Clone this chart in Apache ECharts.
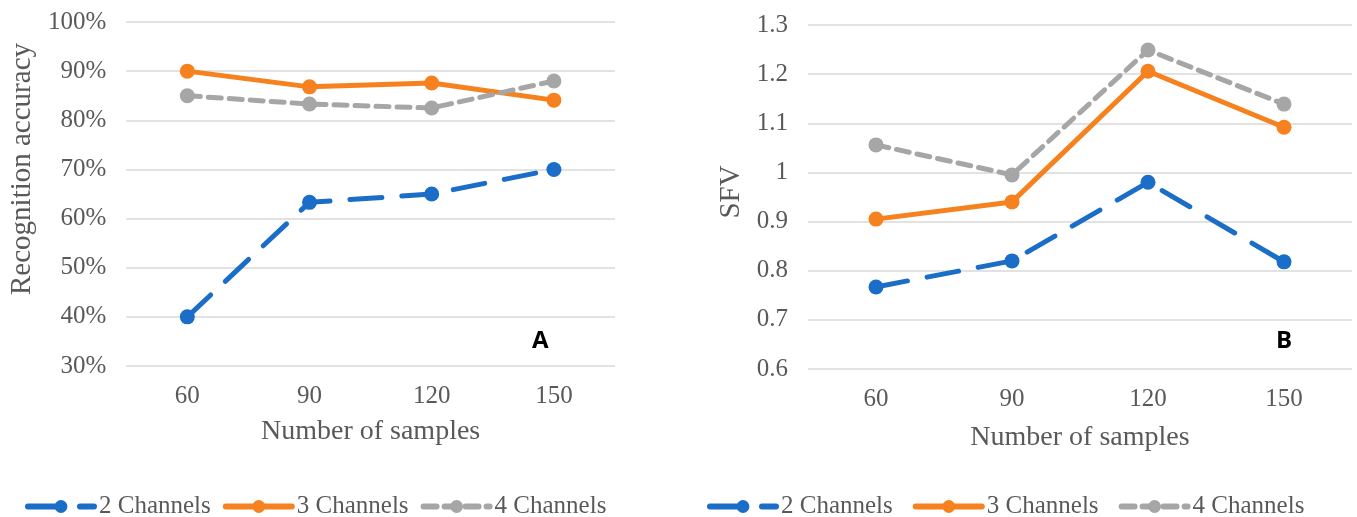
<!DOCTYPE html>
<html>
<head>
<meta charset="utf-8">
<script src="https://cdn.jsdelivr.net/npm/echarts@6/dist/echarts.min.js"></script>
<style>
  html, body { margin: 0; padding: 0; background: #fff; }
  #wrap { position: relative; width: 1357px; height: 517px; }
  #chartA { position: absolute; left: 0; top: 0; width: 680px; height: 517px; }
  #chartB { position: absolute; left: 680px; top: 0; width: 677px; height: 517px; }
</style>
</head>
<body>
<div id="wrap">
  <div id="chartA"></div>
  <div id="chartB"></div>
</div>
<script>
// Sample sizes shared by both panels
const categories = ['60', '90', '120', '150'];
const seriesNames = ['2 Channels', '3 Channels', '4 Channels'];

// Panel A: recognition accuracy (%)
const accuracy2ch = [40, 63.3, 65, 70];
const accuracy3ch = [90, 86.8, 87.6, 84.1];
const accuracy4ch = [85, 83.3, 82.5, 88];

// Panel B: SFV
const sfv2ch = [0.767, 0.82, 0.98, 0.818];
const sfv3ch = [0.905, 0.94, 1.206, 1.092];
const sfv4ch = [1.056, 0.995, 1.249, 1.139];

const COLORS = ['#1a6ec8', '#f5821f', '#a6a6a6'];
const DASHES = [[32, 20], 'solid', [13, 8]];
const TEXT = '#595959';
const GRID = '#d9d9d9';
const SERIF = '"Liberation Serif", "Times New Roman", serif';

function lineSeries(name, data, i) {
  return {
    name: name,
    type: 'line',
    data: data,
    symbol: 'circle',
    symbolSize: 15,
    itemStyle: { color: COLORS[i] },
    lineStyle: { color: COLORS[i], width: 5, type: DASHES[i], cap: 'round' },
    emphasis: { disabled: true },
    animation: false
  };
}

function buildOption(cfg) {
  return {
    animation: false,
    grid: cfg.grid,
    legend: {
      data: seriesNames,
      left: cfg.legendLeft,
      top: 489,
      itemWidth: 66,
      itemHeight: 16,
      itemGap: cfg.legendGap,
      lineStyle: { width: 6, cap: 'round' },
      textStyle: { fontFamily: SERIF, fontSize: 25, color: TEXT }
    },
    xAxis: {
      type: 'category',
      data: categories,
      boundaryGap: true,
      axisLine: { show: false },
      axisTick: { show: false },
      axisLabel: { fontFamily: SERIF, fontSize: 25, color: TEXT, margin: 18 },
      name: 'Number of samples',
      nameLocation: 'middle',
      nameGap: cfg.xNameGap,
      nameTextStyle: { fontFamily: SERIF, fontSize: 28, color: TEXT }
    },
    yAxis: {
      type: 'value',
      min: cfg.yMin,
      max: cfg.yMax,
      interval: cfg.yInterval,
      axisLine: { show: false },
      axisTick: { show: false },
      splitLine: { lineStyle: { color: GRID, width: 1.5 } },
      axisLabel: {
        fontFamily: SERIF, fontSize: 25, color: TEXT, margin: 20,
        formatter: cfg.yFormatter
      },
      name: cfg.yName,
      nameLocation: 'middle',
      nameGap: cfg.yNameGap,
      nameTextStyle: { fontFamily: SERIF, fontSize: 29, color: TEXT, padding: cfg.yNamePadding }
    },
    graphic: [{
      type: 'text',
      left: cfg.tagX,
      top: 329,
      style: { text: cfg.tag, font: 'bold 24px "Open Sans", "DejaVu Sans", sans-serif', fill: '#000' }
    }],
    series: cfg.values.map((d, i) => lineSeries(seriesNames[i], d, i))
  };
}

const chartA = echarts.init(document.getElementById('chartA'), null, { renderer: 'canvas' });
chartA.setOption(buildOption({
  grid: { left: 124, right: 65, top: 22, bottom: 151 },
  legendLeft: 20,
  legendGap: 12,
  yMin: 30, yMax: 100, yInterval: 10,
  yFormatter: '{value}%',
  yName: 'Recognition accuracy',
  yNameGap: 84,
  yNamePadding: [0, 0, 0, 50],
  xNameGap: 52,
  tag: 'A', tagX: 532,
  values: [accuracy2ch, accuracy3ch, accuracy4ch]
}));

const chartB = echarts.init(document.getElementById('chartB'), null, { renderer: 'canvas' });
chartB.setOption(buildOption({
  grid: { left: 128, right: 5, top: 25, bottom: 148 },
  legendLeft: 22,
  legendGap: 20,
  yMin: 0.6, yMax: 1.3, yInterval: 0.1,
  yFormatter: v => String(Math.round(v * 10) / 10),
  yName: 'SFV',
  yNameGap: 56,
  yNamePadding: [0, 0, 0, 10],
  xNameGap: 55,
  tag: 'B', tagX: 596,
  values: [sfv2ch, sfv3ch, sfv4ch]
}));
</script>
</body>
</html>
